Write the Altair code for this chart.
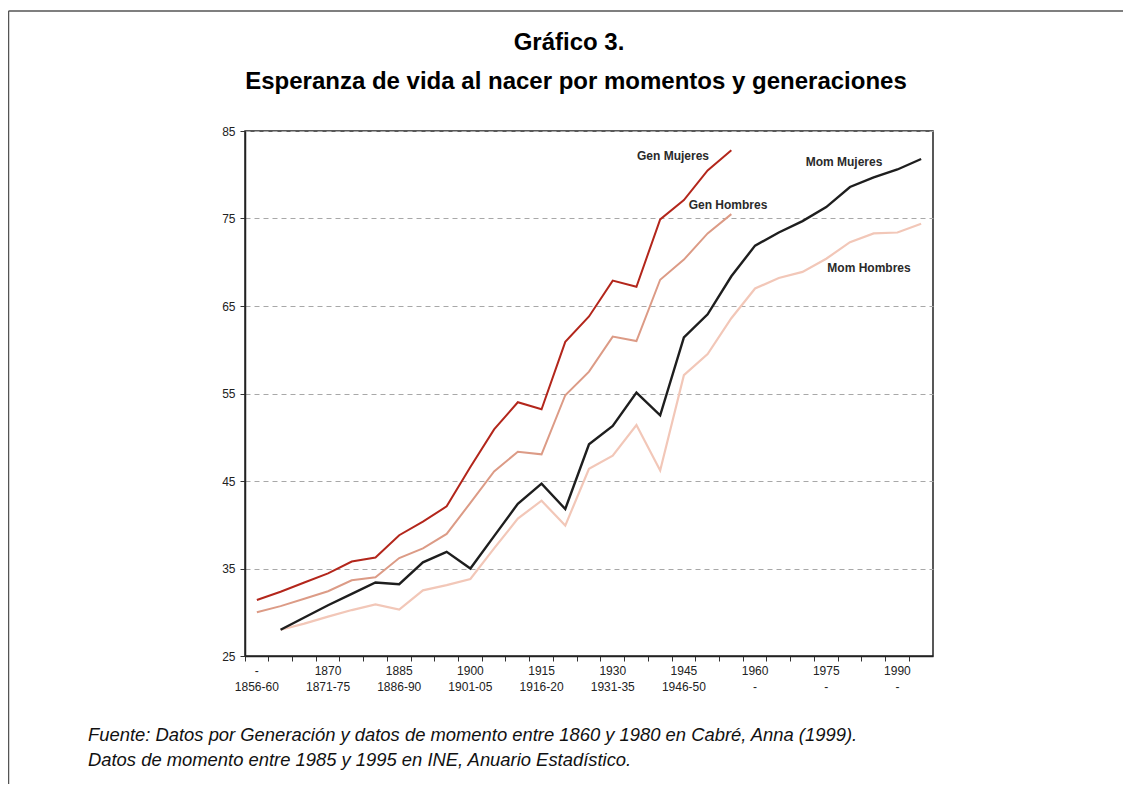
import altair as alt
import pandas as pd

# ---------------- data ----------------
years = [str(y) for y in range(1855, 2000, 5)]          # 29 five-year categories
gen_years = years[:21]                                   # 1855 .. 1955
mom_years = years[1:]                                    # 1860 .. 1995

gen_mujeres = [31.4, 32.35, 33.4, 34.45, 35.8, 36.25, 38.8, 40.35, 42.1, 46.6, 50.9,
               54.0, 53.2, 60.9, 63.8, 67.9, 67.2, 74.9, 77.1, 80.5, 82.8]
gen_hombres = [30.0, 30.7, 31.55, 32.4, 33.65, 34.0, 36.2, 37.3, 38.95, 42.5, 46.1,
               48.35, 48.05, 54.8, 57.5, 61.5, 61.0, 68.0, 70.3, 73.3, 75.5]
mom_mujeres = [28.0, 29.4, 30.8, 32.1, 33.4, 33.2, 35.7, 36.9, 35.0, 38.7, 42.4, 44.7,
               41.8, 49.2, 51.3, 55.1, 52.5, 61.4, 64.05, 68.4, 71.9, 73.4, 74.7, 76.3,
               78.6, 79.7, 80.6, 81.8]
mom_hombres = [28.0, 28.7, 29.5, 30.25, 30.9, 30.3, 32.5, 33.1, 33.8, 37.3, 40.7, 42.75,
               39.9, 46.4, 47.9, 51.4, 46.2, 57.1, 59.5, 63.6, 67.0, 68.2, 68.9, 70.4,
               72.3, 73.3, 73.4, 74.4]

series_names = ["Gen Mujeres", "Gen Hombres", "Mom Hombres", "Mom Mujeres"]
series_years = [gen_years, gen_years, mom_years, mom_years]
series_values = [gen_mujeres, gen_hombres, mom_hombres, mom_mujeres]
series_colors = ["#b3261b", "#dc9b86", "#f2c7b8", "#1e1e1e"]
series_widths = [2, 2, 2.2, 2.4]

tick_years = ["1855", "1870", "1885", "1900", "1915", "1930", "1945", "1960", "1975", "1990"]
tick_line1 = ["-", "1870", "1885", "1900", "1915", "1930", "1945", "1960", "1975", "1990"]
tick_line2 = ["1856-60", "1871-75", "1886-90", "1901-05", "1916-20", "1931-35", "1946-50",
              "-", "-", "-"]
y_ticks = [25, 35, 45, 55, 65, 75, 85]

title_1 = "Gráfico 3."
title_2 = "Esperanza de vida al nacer por momentos y generaciones"
note_1 = "Fuente: Datos por Generación y datos de momento entre 1860 y 1980 en Cabré, Anna (1999)."
note_2 = "Datos de momento entre 1985 y 1995 en INE, Anuario Estadístico."

# ---------------- build ----------------
rows = []
for name, ys, vs in zip(series_names, series_years, series_values):
    for y, v in zip(ys, vs):
        rows.append({"year": y, "value": v, "series": name})
df = pd.DataFrame(rows)

label_expr = "''"
for ty, l1, l2 in reversed(list(zip(tick_years, tick_line1, tick_line2))):
    label_expr = f"datum.value == '{ty}' ? ['{l1}', '{l2}'] : ({label_expr})"

FONT = "Liberation Sans"

x_enc = alt.X(
    "year:O",
    sort=years,
    scale=alt.Scale(type="band", domain=years, paddingInner=0, paddingOuter=0),
    axis=alt.Axis(
        title=None, bandPosition=0, tickSize=5, tickColor="#333", tickWidth=1,
        domainColor="#222", domainWidth=1.5, labelAngle=0, labelExpr=label_expr,
        labelFontSize=12, labelColor="#222", labelLineHeight=16, labelPadding=4,
        labelOverlap=False, grid=False,
    ),
)
y_enc = alt.Y(
    "value:Q",
    scale=alt.Scale(domain=[25, 85], nice=False, zero=False),
    axis=alt.Axis(
        title=None, values=y_ticks, tickSize=5, tickColor="#333", domainColor="#222",
        domainWidth=1.5, labelFontSize=12, labelColor="#222", labelPadding=5,
        grid=True, gridDash=[5, 4], gridColor="#a8a8a8", gridWidth=1,
    ),
)

layers = []
for name, color, w in zip(series_names, series_colors, series_widths):
    layers.append(
        alt.Chart(df)
        .transform_filter(alt.datum.series == name)
        .mark_line(color=color, strokeWidth=w)
        .encode(x=x_enc, y=y_enc)
    )


def text_layer(txt, x, y, size, weight="normal", style="normal", align="center", color="#000"):
    return (
        alt.Chart(pd.DataFrame({"t": [txt]}))
        .mark_text(font=FONT, fontSize=size, fontWeight=weight, fontStyle=style,
                   align=align, baseline="alphabetic", color=color)
        .encode(text="t:N", x=alt.value(x), y=alt.value(y))
    )


# series annotations (pixel offsets relative to plot area)
ann_pos = [(428, 29), (483, 78), (599, 35), (624, 141)]
ann_names = ["Gen Mujeres", "Gen Hombres", "Mom Mujeres", "Mom Hombres"]
for name, (ax, ay) in zip(ann_names, ann_pos):
    layers.append(text_layer(name, ax, ay, 12, weight="bold", color="#2a2a2a"))

# titles and source notes
layers.append(text_layer(title_1, 324, -81, 24, weight="bold"))
layers.append(text_layer(title_2, 331, -42, 24, weight="bold"))
layers.append(text_layer(note_1, -157, 610, 18.4, style="italic", align="left", color="#111"))
layers.append(text_layer(note_2, -157, 635, 18.4, style="italic", align="left", color="#111"))

# outer frame (top and left edges)
frame_df = pd.DataFrame({"k": [0]})
layers.append(
    alt.Chart(frame_df).mark_rule(color="#555", strokeWidth=1.5)
    .encode(x=alt.value(-236.5), x2=alt.value(910), y=alt.value(-120))
)
layers.append(
    alt.Chart(frame_df).mark_rule(color="#555", strokeWidth=1.5)
    .encode(x=alt.value(-236.5), y=alt.value(-120), y2=alt.value(680))
)

chart = (
    alt.layer(*layers)
    .properties(
        width=688, height=525,
        padding={"left": 237, "top": 123, "right": 190, "bottom": 128},
        autosize=alt.AutoSizeParams(type="none"),
    )
    .configure(font=FONT)
    .configure_view(stroke="#222", strokeWidth=1.5)
)

chart.save("out.html", embed_options={"renderer": "svg", "actions": False})
